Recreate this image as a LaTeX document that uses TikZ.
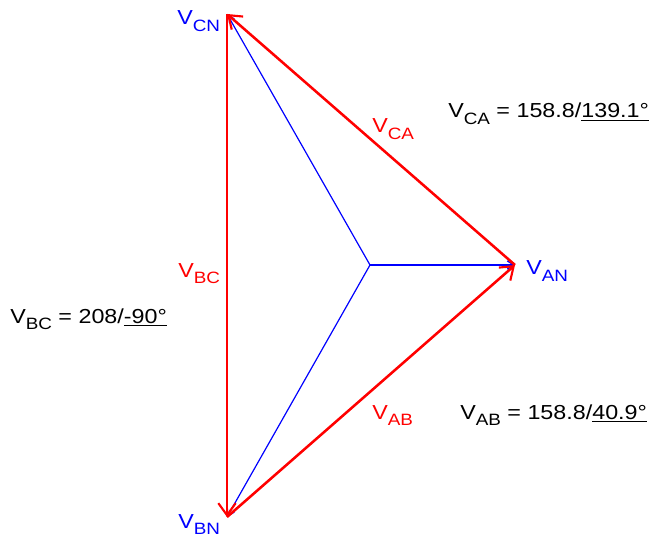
\documentclass[tikz,border=0pt]{standalone}
\usepackage{fontspec}
\setmainfont[FakeStretch=1.15]{Liberation Sans}
\usepackage{tikz}
\usetikzlibrary{arrows.meta}
\def\phsize{15.2pt}
\def\subsize{12.3pt}
\newcommand{\vsym}[1]{V\raisebox{-4.8pt}{\fontsize{\subsize}{13pt}\selectfont #1}}
\tikzset{
  lineline/.style={red, line width=1.9pt, -{Straight Barb[length=9pt, width=13pt, line width=1.6pt]}},
  phaseline/.style={blue, line width=0.9pt, -{Straight Barb[length=5pt, width=6pt]}},
  lbl/.style={anchor=base west, inner sep=0pt, font=\fontsize{\phsize}{18pt}\selectfont}
}

\begin{document}
\begin{tikzpicture}[x=0.75pt, y=-0.75pt]
		\useasboundingbox (0,0) rectangle (653,538);
		% phasor end points
		\coordinate (n) at (370,265);
		\coordinate (an) at (515,265);
		\coordinate (cn) at (227,14);
		\coordinate (bn) at (227,517);
		% phase voltages
		\draw[phaseline] (n) -- (an);
		\draw[phaseline] (n) -- (cn);
		\draw[phaseline] (n) -- (bn);
		% line voltages
		\draw[lineline] (an) -- (cn);
		\draw[lineline] (cn) -- (bn);
		\draw[lineline] (bn) -- (an);
		% labels
		\node[lbl, blue] (lcn) at (177,25) {\vsym{CN}};
		\node[lbl, blue] (lbn) at (178,528) {\vsym{BN}};
		\node[lbl, blue] (lan) at (526,275) {\vsym{AN}};
		\node[lbl, red] (lca) at (372,133) {\vsym{CA}};
		\node[lbl, red] (lbc) at (178,277) {\vsym{BC}};
		\node[lbl, red] (lab) at (372,419) {\vsym{AB}};
		\node[lbl] (vca) at (448,118) {\vsym{CA} = 158.8/\underline{139.1°}};
		\node[lbl] (vbc) at (10,323) {\vsym{BC} = 208/\underline{-90°}};
		\node[lbl] (vab) at (460,419) {\vsym{AB} = 158.8/\underline{40.9°}};
	\end{tikzpicture}
\end{document}
